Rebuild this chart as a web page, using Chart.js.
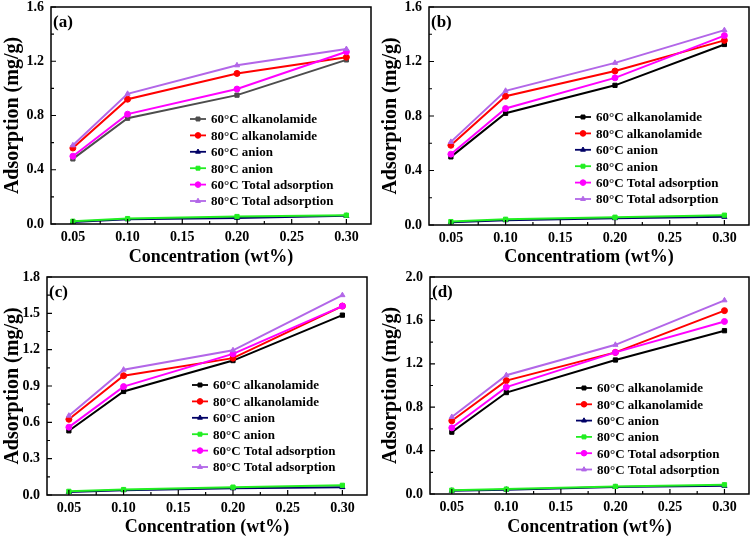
<!DOCTYPE html>
<html>
<head>
<meta charset="utf-8">
<script src="https://cdn.jsdelivr.net/npm/chart.js@4.4.0/dist/chart.umd.min.js"></script>
<style>
    body { margin: 0; background: #fff; }
    .panel { position: absolute; width: 378px; height: 270px; }
</style>
</head>
<body>
<div class="panel" style="left:0;top:0"><canvas id="chartA"></canvas></div>
<div class="panel" style="left:378px;top:0"><canvas id="chartB"></canvas></div>
<div class="panel" style="left:0;top:270px"><canvas id="chartC"></canvas></div>
<div class="panel" style="left:378px;top:270px"><canvas id="chartD"></canvas></div>
<script>
const concentrations = [0.05, 0.10, 0.20, 0.30];
const xTicks = [0.05, 0.10, 0.15, 0.20, 0.25, 0.30];
const seriesLabels = [
    "60°C alkanolamide",
    "80°C alkanolamide",
    "60°C anion",
    "80°C anion",
    "60°C Total adsorption",
    "80°C Total adsorption"
];

// (a)
const yTicksA = [0, 0.4, 0.8, 1.2, 1.6];
const a60Alkanolamide = [0.48, 0.78, 0.95, 1.21];
const a80Alkanolamide = [0.56, 0.92, 1.11, 1.23];
const a60Anion = [0.015, 0.035, 0.045, 0.06];
const a80Anion = [0.02, 0.04, 0.055, 0.065];
const a60Total = [0.50, 0.81, 0.995, 1.27];
const a80Total = [0.58, 0.96, 1.17, 1.29];

// (b)
const yTicksB = [0, 0.4, 0.8, 1.2, 1.6];
const b60Alkanolamide = [0.50, 0.82, 1.025, 1.325];
const b80Alkanolamide = [0.585, 0.945, 1.13, 1.355];
const b60Anion = [0.02, 0.035, 0.05, 0.06];
const b80Anion = [0.025, 0.042, 0.057, 0.072];
const b60Total = [0.52, 0.855, 1.08, 1.39];
const b80Total = [0.61, 0.985, 1.19, 1.43];

// (c)
const yTicksC = [0, 0.3, 0.6, 0.9, 1.2, 1.5, 1.8];
const c60Alkanolamide = [0.53, 0.855, 1.11, 1.485];
const c80Alkanolamide = [0.625, 0.985, 1.13, 1.56];
const c60Anion = [0.025, 0.04, 0.055, 0.065];
const c80Anion = [0.03, 0.045, 0.065, 0.08];
const c60Total = [0.56, 0.895, 1.165, 1.56];
const c80Total = [0.655, 1.035, 1.195, 1.65];

// (d)
const yTicksD = [0, 0.4, 0.8, 1.2, 1.6, 2.0];
const d60Alkanolamide = [0.57, 0.935, 1.235, 1.505];
const d80Alkanolamide = [0.675, 1.045, 1.305, 1.69];
const d60Anion = [0.03, 0.04, 0.065, 0.075];
const d80Anion = [0.035, 0.045, 0.07, 0.085];
const d60Total = [0.61, 0.985, 1.305, 1.59];
const d80Total = [0.71, 1.095, 1.375, 1.785];

const FONT = "'Liberation Serif', 'Times New Roman', serif";

Chart.defaults.font.family = FONT;
Chart.defaults.font.weight = "bold";
Chart.defaults.color = "#000";

const seriesStyles = [
    { color: "#000000", pointStyle: "rect", order: 3 },
    { color: "#ff0000", pointStyle: "circle", order: 2 },
    { color: "#000066", pointStyle: "triangle", order: 5 },
    { color: "#22ee22", pointStyle: "rect", order: 4 },
    { color: "#ff00ff", pointStyle: "circle", order: 1 },
    { color: "#b266e8", pointStyle: "triangle", order: 0 }
];

const framePlugin = {
    id: "frame",
    afterDraw(chart, args, opts) {
        const ctx = chart.ctx;
        const area = chart.chartArea;
        const xScale = chart.scales.x;
        const yScale = chart.scales.y;

        ctx.save();
        ctx.strokeStyle = "#000";
        ctx.lineWidth = 1.5;
        ctx.strokeRect(area.left, area.top, area.right - area.left, area.bottom - area.top);

        // inward ticks, major and minor
        ctx.lineWidth = 1.2;
        ctx.beginPath();
        xTicks.forEach((v, i) => {
            const px = xScale.getPixelForValue(v);
            ctx.moveTo(px, area.bottom);
            ctx.lineTo(px, area.bottom - 5);
            if (i < xTicks.length - 1) {
                const mx = xScale.getPixelForValue((v + xTicks[i + 1]) / 2);
                ctx.moveTo(mx, area.bottom);
                ctx.lineTo(mx, area.bottom - 3);
            }
        });
        opts.yTicks.forEach((v, i) => {
            const py = yScale.getPixelForValue(v);
            ctx.moveTo(area.left, py);
            ctx.lineTo(area.left + 5, py);
            if (i < opts.yTicks.length - 1) {
                const my = yScale.getPixelForValue((v + opts.yTicks[i + 1]) / 2);
                ctx.moveTo(area.left, my);
                ctx.lineTo(area.left + 3, my);
            }
        });
        ctx.stroke();

        // panel letter
        ctx.fillStyle = "#000";
        ctx.font = "bold 17px " + FONT;
        ctx.textBaseline = "middle";
        ctx.textAlign = "left";
        ctx.fillText(opts.letter, area.left + 2, area.top + 16);

        // legend
        ctx.font = "bold 13px " + FONT;
        chart.data.datasets.forEach((ds, i) => {
            const ly = opts.legendY + i * opts.legendGap;
            const lx = opts.legendX;
            ctx.strokeStyle = ds.borderColor;
            ctx.fillStyle = ds.borderColor;
            ctx.lineWidth = 1.8;
            ctx.beginPath();
            ctx.moveTo(lx, ly);
            ctx.lineTo(lx + 16, ly);
            ctx.stroke();
            ctx.lineWidth = 1;
            Chart.helpers.drawPoint(ctx, {
                pointStyle: ds.pointStyle,
                radius: 2.8,
                rotation: 0,
                borderWidth: 1
            }, lx + 8, ly);
            ctx.fillStyle = "#000";
            ctx.fillText(ds.label, lx + 21, ly + 1);
        });
        ctx.restore();
    }
};

function buildDatasets(seriesList, firstColor) {
    return seriesList.map((values, i) => {
        const style = seriesStyles[i];
        const color = i === 0 ? firstColor : style.color;
        return {
            label: seriesLabels[i],
            data: concentrations.map((c, j) => ({ x: c, y: values[j] })),
            borderColor: color,
            backgroundColor: color,
            pointBackgroundColor: color,
            pointBorderColor: color,
            pointStyle: style.pointStyle,
            pointRadius: 3,
            pointBorderWidth: 1,
            borderWidth: 2,
            order: style.order
        };
    });
}

function drawPanel(canvasId, panel) {
    new Chart(document.getElementById(canvasId), {
        type: "line",
        data: {
            datasets: buildDatasets(panel.series, panel.firstColor)
        },
        options: {
            responsive: true,
            maintainAspectRatio: false,
            animation: false,
            layout: {
                padding: { top: panel.topPad, right: panel.rightPad, bottom: 0, left: 0 }
            },
            plugins: {
                legend: { display: false },
                tooltip: { enabled: false },
                frame: {
                    letter: panel.letter,
                    yTicks: panel.yTicks,
                    legendX: panel.legendX,
                    legendY: panel.legendY,
                    legendGap: panel.legendGap
                }
            },
            scales: {
                x: {
                    type: "linear",
                    min: 0.03,
                    max: 0.3225,
                    afterBuildTicks: scale => {
                        scale.ticks = xTicks.map(v => ({ value: v }));
                    },
                    afterFit: scale => {
                        scale.height = panel.bottomH;
                        scale.paddingLeft = 0;
                        scale.paddingRight = 0;
                    },
                    grid: { display: false, drawTicks: false },
                    border: { display: false },
                    ticks: {
                        padding: 5,
                        maxRotation: 0,
                        font: { size: 14, weight: "bold" },
                        callback: value => Number(value).toFixed(2)
                    },
                    title: {
                        display: true,
                        text: panel.xTitle,
                        font: { size: 18, weight: "bold", lineHeight: 1.2 },
                        padding: { top: 0, bottom: 2 }
                    }
                },
                y: {
                    min: panel.yTicks[0],
                    max: panel.yTicks[panel.yTicks.length - 1],
                    afterBuildTicks: scale => {
                        scale.ticks = panel.yTicks.map(v => ({ value: v }));
                    },
                    afterFit: scale => {
                        scale.width = panel.leftW;
                        scale.paddingTop = 0;
                        scale.paddingBottom = 0;
                    },
                    grid: { display: false, drawTicks: false },
                    border: { display: false },
                    ticks: {
                        padding: 7,
                        font: { size: 14, weight: "bold" },
                        callback: value => Number(value).toFixed(1)
                    },
                    title: {
                        display: true,
                        text: "Adsorption (mg/g)",
                        font: { size: 20, weight: "bold", lineHeight: 1.2 },
                        padding: { top: 1, bottom: 0 }
                    }
                }
            }
        },
        plugins: [framePlugin]
    });
}

drawPanel("chartA", {
    letter: "(a)",
    series: [a60Alkanolamide, a80Alkanolamide, a60Anion, a80Anion, a60Total, a80Total],
    firstColor: "#4d4d4d",
    yTicks: yTicksA,
    xTitle: "Concentration (wt%)",
    leftW: 51, rightPad: 7, bottomH: 46, topPad: 7,
    legendX: 190, legendY: 119, legendGap: 16.4
});

drawPanel("chartB", {
    letter: "(b)",
    series: [b60Alkanolamide, b80Alkanolamide, b60Anion, b80Anion, b60Total, b80Total],
    firstColor: "#000000",
    yTicks: yTicksB,
    xTitle: "Concentratiom (wt%)",
    leftW: 51, rightPad: 7, bottomH: 45, topPad: 7,
    legendX: 197, legendY: 117, legendGap: 16.4
});

drawPanel("chartC", {
    letter: "(c)",
    series: [c60Alkanolamide, c80Alkanolamide, c60Anion, c80Anion, c60Total, c80Total],
    firstColor: "#000000",
    yTicks: yTicksC,
    xTitle: "Concentration (wt%)",
    leftW: 47, rightPad: 11, bottomH: 45, topPad: 7,
    legendX: 192, legendY: 115, legendGap: 16.4
});

drawPanel("chartD", {
    letter: "(d)",
    series: [d60Alkanolamide, d80Alkanolamide, d60Anion, d80Anion, d60Total, d80Total],
    firstColor: "#000000",
    yTicks: yTicksD,
    xTitle: "Concentration (wt%)",
    leftW: 52, rightPad: 7, bottomH: 46, topPad: 7,
    legendX: 198, legendY: 118, legendGap: 16.3
});
</script>
</body>
</html>
